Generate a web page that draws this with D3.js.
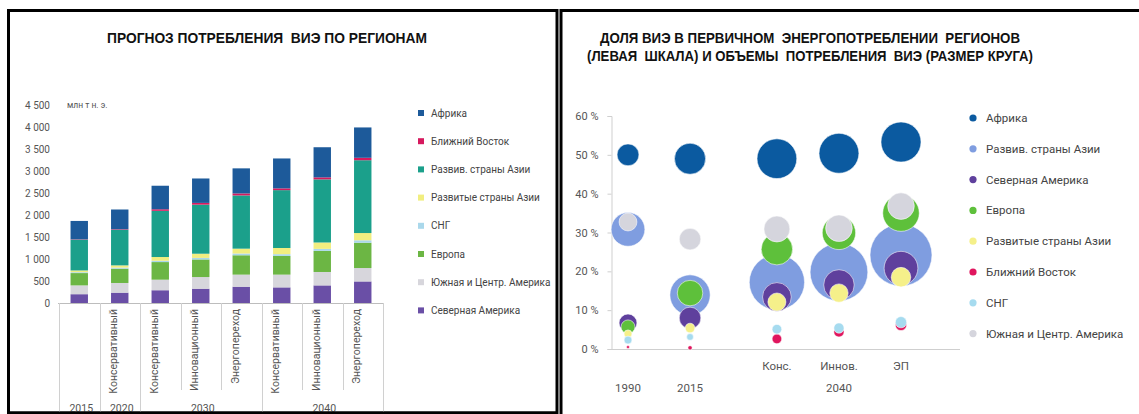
<!DOCTYPE html>
<html lang="ru">
<head>
<meta charset="utf-8">
<script src="https://cdn.jsdelivr.net/npm/d3@7"></script>
<style>
  html, body { margin: 0; padding: 0; background: #fff; }
  svg { display: block; }
  .title { font-family: "Liberation Sans Narrow", "Liberation Sans", Arial, sans-serif; font-weight: bold; fill: #111; white-space: pre; }
  .lbl { font-family: Roboto, "Noto Sans", sans-serif; fill: #555; }
  .leg { font-family: Roboto, "Noto Sans", sans-serif; fill: #444; }
</style>
</head>
<body>
<svg id="chart" width="1139" height="414"></svg>
<script>
// ---------- Left chart: RE consumption by region, mln toe ----------
const barYears = ["2015", "2020", "2030", "2030", "2030", "2040", "2040", "2040"];
const barScenarios = ["", "Консервативный", "Консервативный", "Инновационный", "Энергопереход",
                      "Консервативный", "Инновационный", "Энергопереход"];
const barTicks = [0, 500, 1000, 1500, 2000, 2500, 3000, 3500, 4000, 4500];

const northAmerica        = [200, 235, 290, 325, 370, 355, 400, 490];
const southCentralAmerica = [200, 220, 240, 265, 275, 290, 305, 305];
const europe              = [280, 325, 400, 400, 440, 425, 480, 575];
const cis                 = [20, 25, 30, 35, 40, 40, 45, 55];
const developedAsia       = [40, 50, 85, 95, 110, 140, 145, 165];
const developingAsia      = [700, 810, 1050, 1115, 1210, 1315, 1435, 1655];
const middleEast          = [8, 12, 35, 40, 45, 40, 45, 55];
const africa              = [417, 448, 535, 555, 570, 680, 685, 690];

// ---------- Right chart: RE share of primary energy (%) and RE volume ----------
const bubbleCategories = ["1990", "2015", "Конс.", "Иннов.", "ЭП"];
const bubbleGroups     = ["1990", "2015", "2040", "2040", "2040"];
const shareTicks = [0, 10, 20, 30, 40, 50, 60];

const africaShare              = [50, 49, 49, 50.4, 53.3];
const developingAsiaShare      = [30.8, 13.9, 17.2, 19.8, 24.2];
const northAmericaShare        = [6.7, 8, 13.4, 16.5, 20.8];
const europeShare              = [5.7, 14.4, 25.7, 29.9, 35];
const developedAsiaShare       = [3.9, 5.4, 12.1, 14.4, 18.5];
const middleEastShare          = [0.5, 0.3, 2.6, 4.4, 6.2];
const cisShare                 = [2.3, 3.1, 5.1, 5.4, 6.9];
const southCentralAmericaShare = [32.7, 28.3, 30.9, 31.1, 36.8];

const africaVolume              = [205, 417, 680, 685, 690];
const developingAsiaVolume      = [490, 700, 1315, 1435, 1655];
const northAmericaVolume        = [138, 200, 355, 400, 490];
const europeVolume              = [83, 280, 425, 480, 575];
const developedAsiaVolume       = [27, 40, 140, 145, 165];
const middleEastVolume          = [4, 8, 40, 45, 55];
const cisVolume                 = [27, 20, 40, 45, 55];
const southCentralAmericaVolume = [138, 200, 290, 305, 305];

// ---------- Region definitions (names and colours) ----------
const barSeries = [
  { key: "na",  name: "Северная Америка",        values: northAmerica,        color: "#6a4fa6" },
  { key: "sca", name: "Южная и Центр. Америка",  values: southCentralAmerica, color: "#d7d6dc" },
  { key: "eu",  name: "Европа",                  values: europe,              color: "#6cb644" },
  { key: "cis", name: "СНГ",                     values: cis,                 color: "#aad8eb" },
  { key: "dda", name: "Развитые страны Азии",    values: developedAsia,       color: "#f1ee80" },
  { key: "dva", name: "Развив. страны Азии",     values: developingAsia,      color: "#1ba08b" },
  { key: "me",  name: "Ближний Восток",          values: middleEast,          color: "#d6195e" },
  { key: "af",  name: "Африка",                  values: africa,              color: "#1d5a9a" }
];

const bubbleSeries = [
  { name: "Африка",                 share: africaShare,              volume: africaVolume,              color: "#0b5aa0" },
  { name: "Развив. страны Азии",    share: developingAsiaShare,      volume: developingAsiaVolume,      color: "#7f9de0" },
  { name: "Северная Америка",       share: northAmericaShare,        volume: northAmericaVolume,        color: "#5f409d" },
  { name: "Европа",                 share: europeShare,              volume: europeVolume,              color: "#5ec03b" },
  { name: "Развитые страны Азии",   share: developedAsiaShare,       volume: developedAsiaVolume,       color: "#f5f08a" },
  { name: "Ближний Восток",         share: middleEastShare,          volume: middleEastVolume,          color: "#e0165e" },
  { name: "СНГ",                    share: cisShare,                 volume: cisVolume,                 color: "#a6dbef" },
  { name: "Южная и Центр. Америка", share: southCentralAmericaShare, volume: southCentralAmericaVolume, color: "#d5d5dd" }
];
// paint order: biggest circles first so the smaller ones stay visible
const bubbleOrder = ["Развив. страны Азии", "Африка", "Северная Америка", "Европа",
                     "Южная и Центр. Америка", "Развитые страны Азии", "Ближний Восток", "СНГ"];

const svg = d3.select("#chart");

// panel frames
svg.append("rect").attr("x", 8.5).attr("y", 10.5).attr("width", 548.5).attr("height", 402.5)
  .attr("fill", "none").attr("stroke", "#000").attr("stroke-width", 3);
svg.append("rect").attr("x", 561).attr("y", 10.5).attr("width", 620).attr("height", 430)
  .attr("fill", "none").attr("stroke", "#000").attr("stroke-width", 3);

// ================= LEFT: stacked bars =================
const L = svg.append("g");
L.append("text").attr("class", "title").attr("x", 267).attr("y", 43.3)
  .attr("text-anchor", "middle").attr("font-size", 15.5)
  .attr("textLength", 320).attr("lengthAdjust", "spacingAndGlyphs")
  .text("ПРОГНОЗ ПОТРЕБЛЕНИЯ  ВИЭ ПО РЕГИОНАМ");

const idx = d3.range(barYears.length);
const xB = d3.scaleBand().domain(idx).range([59, 383]).paddingInner(0.57).paddingOuter(0.285);
const yB = d3.scaleLinear().domain([0, 4500]).range([303, 105]);

const table = idx.map(i => {
  const row = { i };
  barSeries.forEach(s => { row[s.key] = s.values[i]; });
  return row;
});
const stacked = d3.stack().keys(barSeries.map(s => s.key))(table);

L.selectAll("g.layer").data(stacked).join("g").attr("class", "layer")
  .attr("fill", (d, k) => barSeries[k].color)
  .selectAll("rect").data(d => d).join("rect")
  .attr("x", d => xB(d.data.i))
  .attr("width", xB.bandwidth())
  .attr("y", d => yB(d[1]))
  .attr("height", d => yB(d[0]) - yB(d[1]));

// y axis labels
const fmtThousands = v => d3.format(",")(v).replace(/,/g, " ");
const yAxisL = d3.axisLeft(yB).tickValues(barTicks).tickFormat(fmtThousands).tickSize(0).tickPadding(0);
const gyL = L.append("g").attr("transform", "translate(50,0)").call(yAxisL);
gyL.select(".domain").remove();
gyL.selectAll("text").attr("class", "lbl").attr("font-size", 10).attr("fill", "#555")
  .attr("font-family", "Roboto, sans-serif");
L.append("text").attr("class", "lbl").attr("x", 67).attr("y", 108).attr("font-size", 8.5)
  .text("млн т н. э.");

// x axis baseline and category separators
const step = xB.step();
const slotLeft = i => xB(i) - step * xB.paddingInner() / 2;
L.append("line").attr("x1", 58).attr("x2", 383).attr("y1", 303.5).attr("y2", 303.5)
  .attr("stroke", "#bdbdbd").attr("stroke-width", 1);
const boundaries = d3.range(barYears.length + 1);
L.selectAll("line.sep").data(boundaries).join("line").attr("class", "sep")
  .attr("x1", i => Math.round(i < barYears.length ? slotLeft(i) : slotLeft(i - 1) + step) + 0.5)
  .attr("x2", i => Math.round(i < barYears.length ? slotLeft(i) : slotLeft(i - 1) + step) + 0.5)
  .attr("y1", 303)
  .attr("y2", i => (i === 0 || i === barYears.length || barYears[i] !== barYears[i - 1]) ? 414 : 390)
  .attr("stroke", "#d0d0d0").attr("stroke-width", 1);

// scenario labels (rotated)
L.selectAll("text.scn").data(idx).join("text").attr("class", "lbl scn")
  .attr("font-size", 10.5)
  .attr("text-anchor", "end")
  .attr("dy", "0.35em")
  .attr("transform", i => `translate(${xB(i) + xB.bandwidth() / 2 - 6},309) rotate(-90)`)
  .text(i => barScenarios[i]);

// year group labels
const yearGroups = d3.groups(idx, i => barYears[i]);
L.selectAll("text.yr").data(yearGroups).join("text").attr("class", "lbl yr")
  .attr("font-size", 10.5).attr("text-anchor", "middle")
  .attr("x", ([, ids]) => (slotLeft(ids[0]) + slotLeft(ids[ids.length - 1]) + step) / 2 + 2)
  .attr("y", 411.5)
  .text(([yr]) => yr);

// legend (top of stack first)
const legL = L.selectAll("g.legl").data(barSeries.slice().reverse()).join("g").attr("class", "legl")
  .attr("transform", (d, k) => `translate(418,${113 + k * 28.2})`);
legL.append("rect").attr("x", 0).attr("y", -3).attr("width", 6).attr("height", 6).attr("fill", d => d.color);
legL.append("text").attr("class", "leg").attr("x", 13).attr("y", 3.5).attr("font-size", 10).text(d => d.name);

// redraw the bottom edge of the left frame over the year labels
svg.append("line").attr("x1", 7).attr("x2", 558).attr("y1", 413).attr("y2", 413)
  .attr("stroke", "#000").attr("stroke-width", 3);

// ================= RIGHT: bubbles =================
const R = svg.append("g");
R.append("text").attr("class", "title").attr("x", 810).attr("y", 43.3)
  .attr("text-anchor", "middle").attr("font-size", 14)
  .attr("textLength", 420).attr("lengthAdjust", "spacingAndGlyphs")
  .text("ДОЛЯ ВИЭ В ПЕРВИЧНОМ  ЭНЕРГОПОТРЕБЛЕНИИ  РЕГИОНОВ");
R.append("text").attr("class", "title").attr("x", 810).attr("y", 60.7)
  .attr("text-anchor", "middle").attr("font-size", 14)
  .attr("textLength", 446).attr("lengthAdjust", "spacingAndGlyphs")
  .text("(ЛЕВАЯ  ШКАЛА) И ОБЪЕМЫ  ПОТРЕБЛЕНИЯ  ВИЭ (РАЗМЕР КРУГА)");

// scenario points sit in one group, slightly set apart from the historical years
const groupGap = 0.4;
const slots = bubbleCategories.map((c, i) => i + (i >= 2 ? groupGap : 0));
const xR = d3.scaleLinear().domain([0, d3.max(slots)]).range([628, 901]);
const yR = d3.scaleLinear().domain([0, 60]).range([349, 116]);
const rR = d3.scaleSqrt().domain([0, 1655]).range([0, 31]);

// axes
const yAxisR = d3.axisLeft(yR).tickValues(shareTicks).tickFormat(v => v + " %").tickSize(4).tickPadding(9);
const gyR = R.append("g").attr("transform", "translate(611.5,0)").call(yAxisR);
gyR.select(".domain").attr("stroke", "#cfcfcf");
gyR.selectAll(".tick line").attr("stroke", "#cfcfcf");
gyR.selectAll("text").attr("font-family", "Roboto, sans-serif").attr("font-size", 11).attr("fill", "#555");
R.append("line").attr("x1", 611).attr("x2", 960).attr("y1", 349.5).attr("y2", 349.5)
  .attr("stroke", "#cfcfcf").attr("stroke-width", 1);

// bubbles
const points = [];
bubbleOrder.forEach(name => {
  const s = bubbleSeries.find(b => b.name === name);
  bubbleCategories.forEach((c, i) => {
    points.push({ name, color: s.color, x: xR(slots[i]), share: s.share[i], volume: s.volume[i] });
  });
});
R.selectAll("circle.b").data(points).join("circle").attr("class", "b")
  .attr("cx", d => d.x).attr("cy", d => yR(d.share)).attr("r", d => rR(d.volume))
  .attr("fill", d => d.color).attr("stroke", "#fff").attr("stroke-width", 0.8).attr("stroke-opacity", 0.7);

// category labels: scenarios on the first row, years on the second
bubbleCategories.forEach((c, i) => {
  const isScenario = bubbleGroups[i] !== c;
  R.append("text").attr("class", "lbl").attr("font-size", 11.5).attr("text-anchor", "middle")
    .attr("x", xR(slots[i])).attr("y", isScenario ? 370 : 392).text(c);
});
d3.groups(d3.range(bubbleCategories.length), i => bubbleGroups[i])
  .filter(([g, ids]) => bubbleCategories[ids[0]] !== g)
  .forEach(([g, ids]) => {
    R.append("text").attr("class", "lbl").attr("font-size", 11.5).attr("text-anchor", "middle")
      .attr("x", (xR(slots[ids[0]]) + xR(slots[ids[ids.length - 1]])) / 2).attr("y", 392).text(g);
  });

// legend
const legR = R.selectAll("g.legr").data(bubbleSeries).join("g").attr("class", "legr")
  .attr("transform", (d, k) => `translate(973,${118 + k * 30.8})`);
legR.append("circle").attr("r", 3.6).attr("fill", d => d.color);
legR.append("text").attr("class", "leg").attr("x", 13).attr("y", 4).attr("font-size", 11.5).text(d => d.name);
</script>
</body>
</html>
